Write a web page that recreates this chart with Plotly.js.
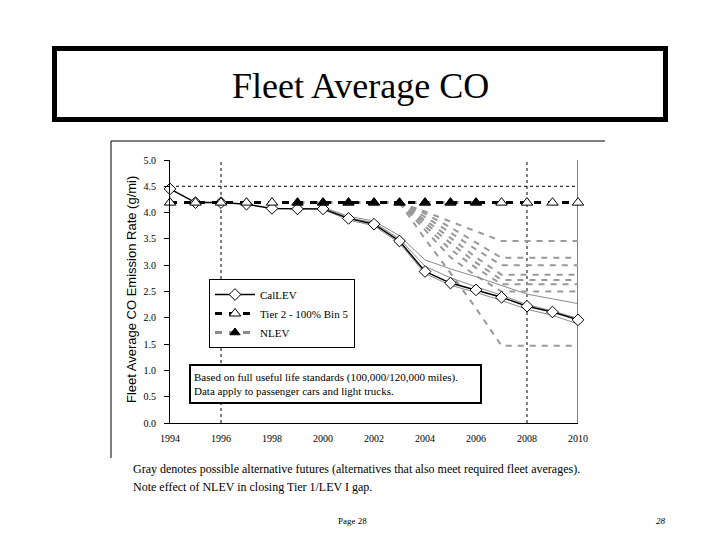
<!DOCTYPE html>
<html>
<head>
<meta charset="utf-8">
<script src="https://cdn.plot.ly/plotly-3.0.1.min.js"></script>
<style>
html,body{margin:0;padding:0;background:#fff;}
#chart{width:720px;height:540px;}
</style>
</head>
<body>
<div id="chart"></div>
<script>
// ---- data ----
var years = [1994,1995,1996,1997,1998,1999,2000,2001,2002,2003,2004,2005,2006,2007,2008,2009,2010];
var calLEV = [4.45,4.19,4.19,4.16,4.08,4.07,4.07,3.89,3.78,3.46,2.88,2.66,2.53,2.39,2.22,2.11,1.96];
var tier2 = [4.19,4.19,4.19,4.19,4.19,4.19,4.19,4.19,4.19,4.19,4.19,4.19,4.19,4.19,4.19,4.19,4.19];
var nlevYears = [1999,2000,2001,2002,2003,2004,2005,2006];
var nlev = [4.19,4.19,4.19,4.19,4.19,4.19,4.19,4.19];

var altSolidYears = [2000,2001,2002,2003,2004,2005,2006,2007,2008,2009,2010];
var altSolidA = [4.10,3.93,3.84,3.56,3.10,2.93,2.78,2.62,2.45,2.36,2.27];
var altSolidB = [4.10,3.90,3.81,3.50,2.98,2.76,2.59,2.43,2.25,2.13,1.99];
var altSolidC = [4.06,3.86,3.75,3.42,2.84,2.62,2.48,2.33,2.16,2.05,1.88];

var altDashYears = [2003,2004,2005,2006,2007,2008,2009,2010];
var altDash1 = [4.19,4.02,3.83,3.64,3.46,3.46,3.46,3.46];
var altDash2 = [4.19,3.98,3.72,3.43,3.14,3.14,3.14,3.14];
var altDash3 = [4.19,3.92,3.62,3.30,3.00,3.00,3.00,3.00];
var altDash4 = [4.19,3.86,3.52,3.15,2.82,2.82,2.82,2.82];
var altDash5 = [4.19,3.80,3.42,3.05,2.72,2.72,2.72,2.72];
var altDash6 = [4.19,3.74,3.30,2.95,2.64,2.64,2.64,2.64];
var altDash7 = [4.19,3.66,3.15,2.80,2.50,2.50,2.50,2.50];
var altDash8 = [4.19,3.50,2.85,2.18,1.47,1.47,1.47,1.47];

var xTicks = [1994,1996,1998,2000,2002,2004,2006,2008,2010];
var yTicks = [0,0.5,1,1.5,2,2.5,3,3.5,4,4.5,5];

var seriesNames = ["CalLEV","Tier 2 - 100% Bin 5","NLEV"];

// ---- traces ----
var FONT = "Liberation Serif, Times New Roman, serif";
var SANS = "Liberation Sans, Arial, sans-serif";
var traces = [];
[altDash1,altDash2,altDash3,altDash4,altDash5,altDash6,altDash7,altDash8].forEach(function(v){
  traces.push({x:altDashYears,y:v,type:"scatter",mode:"lines",showlegend:false,hoverinfo:"skip",
    line:{color:"#999999",width:2,dash:"6px,6px"}});
});
[altSolidA,altSolidB,altSolidC].forEach(function(v){
  traces.push({x:altSolidYears,y:v,type:"scatter",mode:"lines",showlegend:false,hoverinfo:"skip",
    line:{color:"#8c8c8c",width:1}});
});
traces.push({x:years,y:calLEV,name:seriesNames[0],legendrank:1,type:"scatter",mode:"lines+markers",cliponaxis:false,
  line:{color:"#000",width:1.5},
  marker:{symbol:"diamond",size:9,color:"#fff",line:{color:"#000",width:1}}});
traces.push({x:nlevYears,y:nlev,name:seriesNames[2],legendrank:3,type:"scatter",mode:"lines+markers",cliponaxis:false,
  line:{color:"#8c8c8c",width:3,dash:"7px,7px"},
  marker:{symbol:"triangle-up",size:9,color:"#000",line:{color:"#000",width:1}}});
// open triangles are white-filled except where the NLEV marker sits underneath
var tier2Fill = years.map(function(yr){ return nlevYears.indexOf(yr) >= 0 ? "rgba(0,0,0,0)" : "#fff"; });
traces.push({x:years,y:tier2,name:seriesNames[1],legendrank:2,type:"scatter",mode:"lines+markers",cliponaxis:false,
  line:{color:"#000",width:3,dash:"7px,7px"},
  marker:{symbol:"triangle-up",size:10,color:tier2Fill,line:{color:"#000",width:1}}});

// ---- layout ----
var L=170,R=578,T=160,B=423;
function px(x){return (x-L)/(R-L);}
function py(y){return (B-y)/(B-T);}

var layout = {
  width:720,height:540,
  margin:{l:L,r:720-R,t:T,b:540-B,pad:0},
  paper_bgcolor:"#fff",plot_bgcolor:"#fff",
  font:{family:FONT,color:"#000"},
  showlegend:true,
  legend:{x:px(209),y:py(279),xanchor:"left",yanchor:"top",bgcolor:"#fff",
    bordercolor:"#000",borderwidth:1,font:{family:FONT,size:11,color:"#000"},
    tracegroupgap:0,itemwidth:40,traceorder:"normal"},
  xaxis:{range:[1994,2010],tickvals:xTicks,ticktext:xTicks.map(String),showgrid:false,zeroline:false,
    showline:true,linecolor:"#000",linewidth:1,ticks:"",ticklabelstandoff:6,
    tickfont:{family:FONT,size:10,color:"#000"},fixedrange:true},
  yaxis:{range:[0,5],tickvals:yTicks,ticktext:yTicks.map(function(v){return v.toFixed(1);}),
    showgrid:false,zeroline:false,showline:true,linecolor:"#000",linewidth:1,
    ticks:"outside",ticklen:5,tickcolor:"#000",ticklabelstandoff:6,
    tickfont:{family:FONT,size:10,color:"#000"},fixedrange:true},
  shapes:[
    {type:"line",xref:"x",yref:"y",x0:1996,x1:1996,y0:0,y1:5,line:{color:"#000",width:1,dash:"dot"},layer:"below"},
    {type:"line",xref:"x",yref:"y",x0:2008,x1:2008,y0:0,y1:5,line:{color:"#000",width:1,dash:"dot"},layer:"below"},
    {type:"line",xref:"x",yref:"y",x0:1994,x1:2010,y0:4.5,y1:4.5,line:{color:"#000",width:1,dash:"dot"},layer:"below"},
    {type:"line",xref:"x",yref:"y",x0:2010,x1:2010,y0:0,y1:5,line:{color:"#000",width:1},layer:"below"},
    // chart frame
    {type:"line",xref:"paper",yref:"paper",x0:px(111),x1:px(605),y0:py(141),y1:py(141),line:{color:"#000",width:1}},
    {type:"line",xref:"paper",yref:"paper",x0:px(111),x1:px(111),y0:py(141),y1:py(458),line:{color:"#000",width:1}},
    // title box
    {type:"rect",xref:"paper",yref:"paper",x0:px(54.5),x1:px(665.5),y0:py(119.5),y1:py(48.5),line:{color:"#000",width:5}}
  ],
  annotations:[
    {xref:"paper",yref:"paper",x:px(360),y:py(86),text:"Fleet Average CO",showarrow:false,
      font:{family:FONT,size:36,color:"#000"},xanchor:"center",yanchor:"middle"},
    {xref:"paper",yref:"paper",x:px(131),y:py(290),text:"Fleet Average CO Emission Rate (g/mi)",showarrow:false,
      textangle:-90,font:{family:SANS,size:13,color:"#000"},xanchor:"center",yanchor:"middle"},
    {xref:"paper",yref:"paper",x:px(335.5),y:py(384),xanchor:"center",yanchor:"middle",showarrow:false,
      text:"Based on full useful life standards (100,000/120,000 miles).<br>Data apply to passenger cars and light trucks.",
      align:"left",width:283,height:30,borderpad:3,borderwidth:2,bordercolor:"#000",bgcolor:"#fff",
      font:{family:FONT,size:11,color:"#000"}},
    {xref:"paper",yref:"paper",x:px(131),y:py(469),xanchor:"left",yanchor:"middle",showarrow:false,
      text:"Gray denotes possible alternative futures (alternatives that also meet required fleet averages).",
      font:{family:FONT,size:12,color:"#000"}},
    {xref:"paper",yref:"paper",x:px(131),y:py(487),xanchor:"left",yanchor:"middle",showarrow:false,
      text:"Note effect of NLEV in closing Tier 1/LEV I gap.",
      font:{family:FONT,size:12,color:"#000"}},
    {xref:"paper",yref:"paper",x:px(352),y:py(521),xanchor:"center",yanchor:"middle",showarrow:false,
      text:"Page 28",font:{family:FONT,size:9,color:"#000"}},
    {xref:"paper",yref:"paper",x:px(661),y:py(521),xanchor:"center",yanchor:"middle",showarrow:false,
      text:"<i>28</i>",font:{family:FONT,size:9,color:"#000"}}
  ]
};

Plotly.newPlot("chart",traces,layout,{displayModeBar:false,staticPlot:true});
</script>
</body>
</html>
